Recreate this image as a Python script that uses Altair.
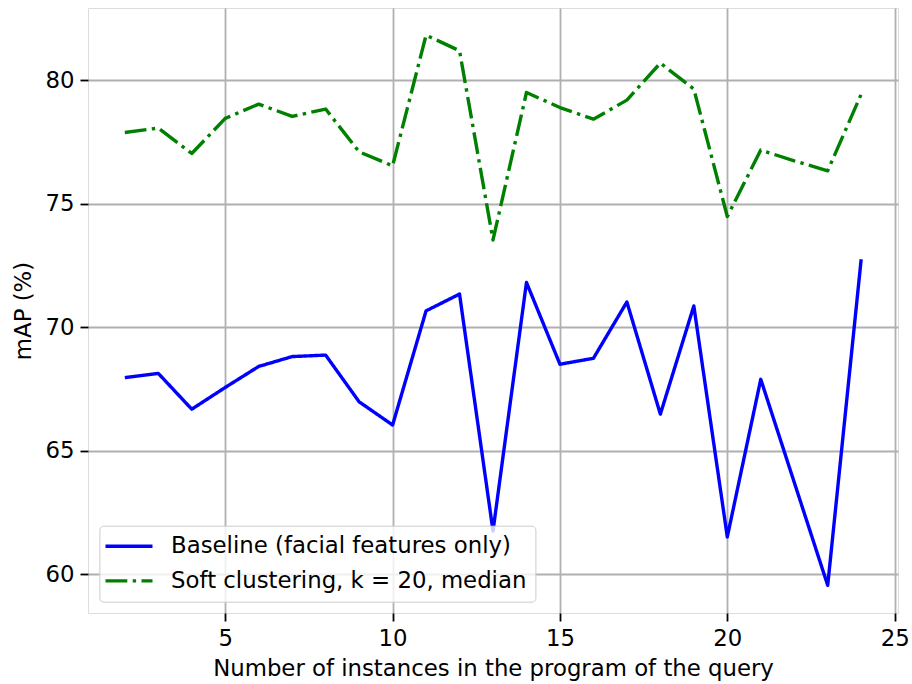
import altair as alt
import pandas as pd

x_vals = [2, 3, 4, 5, 6, 7, 8, 9, 10, 11, 12, 13, 14, 15, 16, 17, 18, 19, 20, 21, 22, 23, 24]
baseline = [67.96, 68.13, 66.68, 67.56, 68.41, 68.81, 68.87, 66.98, 66.04, 70.66, 71.34, 61.75,
            71.81, 68.50, 68.74, 71.02, 66.48, 70.86, 61.51, 67.89, 63.72, 59.55, 72.75]
soft = [77.88, 78.06, 77.03, 78.45, 79.03, 78.53, 78.83, 77.10, 76.53, 81.82, 81.19, 73.53,
        79.50, 78.89, 78.42, 79.19, 80.69, 79.64, 74.48, 77.17, 76.73, 76.33, 79.43]
series_names = ["Baseline (facial features only)", "Soft clustering, k = 20, median"]
series_colors = ["#0000ff", "#008000"]
x_ticks = [5, 10, 15, 20, 25]
y_ticks = [60, 65, 70, 75, 80]

rows = []
for i, xv in enumerate(x_vals):
    rows.append({"x": xv, "y": baseline[i], "series": series_names[0], "order": 0})
    rows.append({"x": xv, "y": soft[i], "series": series_names[1], "order": 1})
df = pd.DataFrame(rows)

FONT = "DejaVu Sans"
FS = 22.8
LW = 3.4

legend_kw = dict(title=None, orient="none", legendX=11.4, legendY=517.7)

chart = alt.Chart(df).mark_line(strokeWidth=LW, strokeCap="butt", strokeJoin="round").encode(
    x=alt.X("x:Q",
            scale=alt.Scale(domain=[0.9, 25.1], nice=False, zero=False),
            axis=alt.Axis(values=x_ticks, title="Number of instances in the program of the query",
                          titlePadding=8)),
    y=alt.Y("y:Q",
            scale=alt.Scale(domain=[58.43, 82.92], nice=False, zero=False),
            axis=alt.Axis(values=y_ticks, title="mAP (%)", titlePadding=9)),
    color=alt.Color("series:N",
                    scale=alt.Scale(domain=series_names, range=series_colors),
                    legend=alt.Legend(**legend_kw)),
    strokeDash=alt.StrokeDash("series:N",
                              scale=alt.Scale(domain=series_names,
                                              range=[[1, 0], [21.8, 5.4, 3.4, 5.4]]),
                              legend=alt.Legend(**legend_kw)),
    detail="order:N",
).properties(
    width=810, height=605,
    padding={"left": 88, "top": 8, "right": 14, "bottom": 71},
    autosize=alt.AutoSizeParams(type="none"),
).configure_view(
    stroke="black", strokeWidth=1.8, fill="white"
).configure(
    background="white"
).configure_axis(
    domain=False,
    grid=True, gridColor="#b0b0b0", gridWidth=1.8,
    ticks=True, tickColor="black", tickWidth=1.8, tickSize=8,
    labelFont=FONT, labelFontSize=FS, labelColor="black", labelPadding=6,
    titleFont=FONT, titleFontSize=FS, titleColor="black", titleFontWeight="normal",
).configure_legend(
    fillColor="rgba(255,255,255,0.8)", strokeColor="#cccccc", cornerRadius=4,
    padding=8.6, rowPadding=10.6,
    labelFont=FONT, labelFontSize=FS, labelColor="black", labelOffset=39.1, labelLimit=0,
    symbolType="M-1.45,0H3.25", symbolSize=400, symbolStrokeWidth=LW,
    symbolFillColor="transparent",
)

chart.save("out.html", embed_options={"renderer": "svg", "actions": False})
